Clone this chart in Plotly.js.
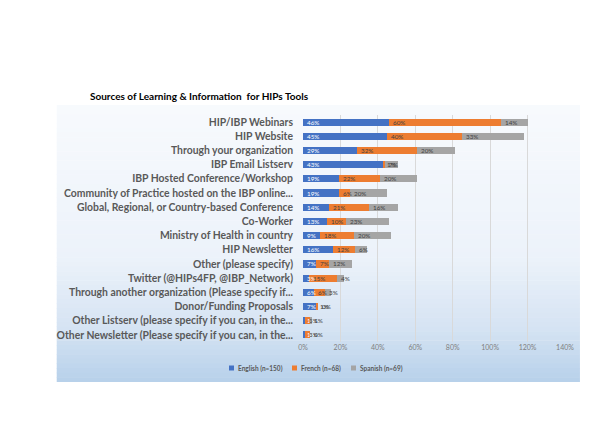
<!DOCTYPE html>
<html><head><meta charset="utf-8">
<script src="https://cdn.plot.ly/plotly-3.0.1.min.js"></script>
<style>html,body{margin:0;padding:0;background:#fff}</style>
</head><body><div id="chart" style="width:605px;height:445px"></div>
<script>
const categories = [
  "HIP/IBP Webinars",
  "HIP Website",
  "Through your organization",
  "IBP Email Listserv",
  "IBP Hosted Conference/Workshop",
  "Community of Practice hosted on the IBP online...",
  "Global, Regional, or Country-based Conference",
  "Co-Worker",
  "Ministry of Health in country",
  "HIP Newsletter",
  "Other (please specify)",
  "Twitter (@HIPs4FP, @IBP_Network)",
  "Through another organization (Please specify if...",
  "Donor/Funding Proposals",
  "Other Listserv (please specify if you can, in the...",
  "Other Newsletter (Please specify if you can, in the..."
];
const english = [46,45,29,43,19,19,14,13,9,16,7,3,6,7,1,1];
const french  = [60,40,32,1,22,6,21,10,18,12,7,15,6,1,3,3];
const spanish = [14,33,20,7,20,20,16,23,20,6,12,4,3,0,1,0];
const seriesNames = ["English (n=150)","French (n=68)","Spanish (n=69)"];
const xTicks = [0,20,40,60,80,100,120,140];

const colors = ["#4472C4","#ED7D31","#A5A5A5"];
const labelColors = ["#ffffff","#404040","#404040"];
const font = "Lato, 'Open Sans', sans-serif";
const series = [english, french, spanish];

const traces = series.map((vals, i) => ({
  type: "bar",
  orientation: "h",
  name: seriesNames[i],
  y: categories,
  x: vals,
  marker: {color: colors[i]},
  showlegend: false,
  hoverinfo: "skip"
}));

const annotations = [];
// data labels at the inside base of each segment
categories.forEach((c, j) => {
  let base = 0;
  series.forEach((vals, i) => {
    annotations.push({
      x: base, y: c, xref: "x", yref: "y",
      text: vals[j] + "%", showarrow: false,
      xanchor: "left", yanchor: "middle", xshift: 2,
      font: {family: font, size: 6.3, color: labelColors[i]}
    });
    base += vals[j];
  });
});

const shapes = [];
// gradient panel background
const x0 = -0.94, x1 = 1.057, yTop = 1.044, yBot = -0.176;
const N = 60;
function lerp(a,b,t){return a+(b-a)*t;}
function col(t){
  const stops = [[0,[247,250,253]],[0.55,[236,242,250]],[0.8,[214,228,243]],[1,[183,208,234]]];
  for (let k=0;k<stops.length-1;k++){
    const [ta,ca]=stops[k],[tb,cb]=stops[k+1];
    if (t>=ta && t<=tb){
      const u=(t-ta)/(tb-ta);
      return `rgb(${Math.round(lerp(ca[0],cb[0],u))},${Math.round(lerp(ca[1],cb[1],u))},${Math.round(lerp(ca[2],cb[2],u))})`;
    }
  }
  return "rgb(183,208,234)";
}
for (let k=0;k<N;k++){
  const ya = yTop - (yTop-yBot)*k/N;
  const yb = yTop - (yTop-yBot)*(k+1)/N - 0.002;
  shapes.push({type:"rect", xref:"paper", yref:"paper", x0:x0, x1:x1, y0:Math.max(yb,yBot), y1:ya,
    fillcolor: col((k+0.5)/N), line:{width:0}, layer:"below"});
}

// compact legend (swatch + label), laid out left to right
const legendPx = [229, 292, 351];   // swatch left edge in pixels
const legendY = (342 - 368) / 227;
seriesNames.forEach((n, i) => {
  const px = (legendPx[i] - 303) / 262;
  shapes.push({type:"rect", xref:"paper", yref:"paper",
    x0: px, x1: px + 5/262, y0: legendY - 2.5/227, y1: legendY + 2.5/227,
    fillcolor: colors[i], line:{width:0}});
  annotations.push({x: px + 7/262, y: legendY, xref:"paper", yref:"paper",
    text: n, showarrow:false, xanchor:"left", yanchor:"middle",
    font:{family: font, size: 6.5, color:"#595959", weight: 700}});
});

const layout = {
  width: 605, height: 445,
  margin: {l: 303, r: 40, t: 115, b: 103},
  paper_bgcolor: "#ffffff",
  plot_bgcolor: "rgba(0,0,0,0)",
  barmode: "stack",
  bargap: 0.5,
  showlegend: false,
  title: {
    text: "Sources of Learning & Information  for HIPs Tools",
    font: {family: font, size: 10, color: "#000000", weight: 700},
    x: 90/605, xanchor: "left", xref: "container",
    y: 1 - 96/445, yanchor: "middle", yref: "container"
  },
  xaxis: {
    range: [0, 140],
    tickvals: xTicks,
    ticktext: xTicks.map(v => v + "%"),
    showgrid: true, gridcolor: "#d9d9d9", gridwidth: 1,
    zeroline: false, showline: false,
    tickfont: {family: font, size: 7, color: "#7f7f7f"},
    ticks: "", ticklen: 0,
    fixedrange: true
  },
  yaxis: {
    autorange: "reversed",
    type: "category",
    showgrid: false, zeroline: false, showline: false,
    tickfont: {family: font, size: 10.4, color: "#595959", weight: 700},
    ticks: "", ticklabelstandoff: 9,
    fixedrange: true
  },
  annotations: annotations,
  shapes: shapes
};

Plotly.newPlot("chart", traces, layout, {displayModeBar: false, staticPlot: true});
</script>
</body></html>
